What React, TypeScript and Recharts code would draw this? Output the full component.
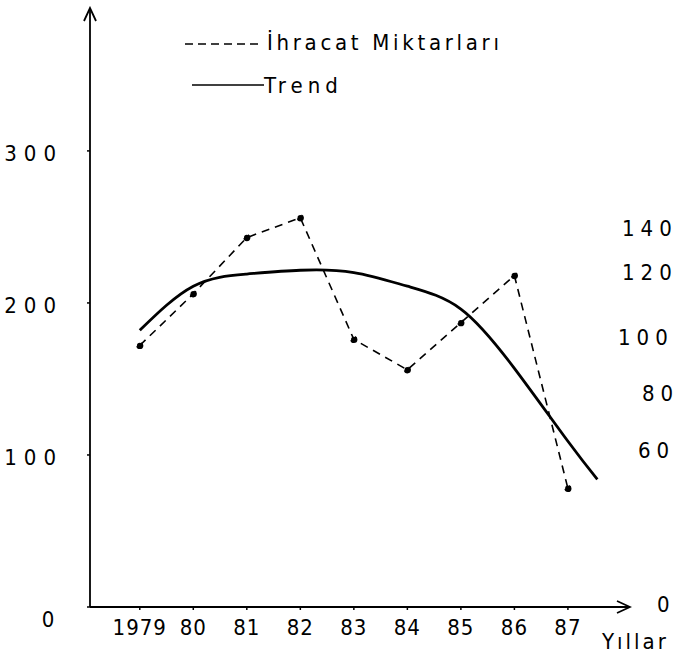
import { LineChart, Line, XAxis, YAxis, Legend, Customized } from "recharts";

const years = [1979, 1980, 1981, 1982, 1983, 1984, 1985, 1986, 1987];
const yearLabels = ["1979", "80", "81", "82", "83", "84", "85", "86", "87"];
const exportAmounts = [172, 206, 243, 256, 176, 156, 187, 218, 78];
const trendYears = [1979, 1980, 1981, 1982, 1983, 1984, 1985, 1986, 1987, 1987.55];
const trendValues = [182, 211, 219, 221.5, 220, 211, 196, 157, 109, 84];
const yTicks = [0, 100, 200, 300];
// labels of the neighbouring chart, cut by the page edge
const cutLabels = ["140", "120", "100", "80", "60", "0"];

const exportData = years.map((year, i) => ({ year, value: exportAmounts[i] }));
const trendData = trendYears.map((year, i) => ({ year, value: trendValues[i] }));

const FONT = "'DejaVu Sans Condensed', 'DejaVu Sans', sans-serif";

const XTick = ({ x, y, payload }: any) => {
  const idx = years.indexOf(payload.value);
  return (
    <text x={x} y={y + 23} textAnchor="middle" fontFamily={FONT} fontSize={22} letterSpacing={1} fill="#000">
      {yearLabels[idx]}
    </text>
  );
};

const YTick = ({ x, y, payload }: any) => {
  if (payload.value === 0) {
    return (
      <text x={48} y={y + 20} textAnchor="middle" fontFamily={FONT} fontSize={22} fill="#000">
        0
      </text>
    );
  }
  return (
    <text x={x - 22} y={y + 10} textAnchor="end" fontFamily={FONT} fontSize={22} letterSpacing={7} fill="#000">
      {payload.value}
    </text>
  );
};

const LegendBox = () => (
  <svg width={684} height={110}>
    <line x1={185} y1={44} x2={260} y2={44} stroke="#000" strokeWidth={1.5} strokeDasharray="8 5" />
    <text x={267} y={50} fontFamily={FONT} fontSize={22} letterSpacing={3.7} fill="#000">
      İhracat Miktarları
    </text>
    <line x1={192} y1={85} x2={264} y2={85} stroke="#000" strokeWidth={1.5} />
    <text x={264} y={93} fontFamily={FONT} fontSize={22} letterSpacing={5} fill="#000">
      Trend
    </text>
  </svg>
);

const Extras = () => {
  const pos = [
    [622, 236],
    [622, 280],
    [618, 345],
    [642, 401],
    [638, 458],
    [657, 612],
  ];
  return (
    <g>
      <defs>
        <marker
          id="axisArrow"
          markerWidth={16}
          markerHeight={14}
          refX={14}
          refY={7}
          orient="auto-start-reverse"
          markerUnits="userSpaceOnUse"
        >
          <path d="M1,1 L14,7 L1,13" fill="none" stroke="#000" strokeWidth={1.8} />
        </marker>
      </defs>
      {cutLabels.map((t, i) => (
        <text
          key={t}
          x={pos[i][0]}
          y={pos[i][1]}
          fontFamily={FONT}
          fontSize={22}
          letterSpacing={6}
          fill="#000"
        >
          {t}
        </text>
      ))}
      <text x={602} y={649} fontFamily={FONT} fontSize={22} letterSpacing={3} fill="#000">
        Yıllar
      </text>
    </g>
  );
};

export default function App() {
  return (
    <div style={{ position: "absolute", left: 0, top: 0, background: "#fff" }}>
      <LineChart
        width={684}
        height={658}
        data={exportData}
        margin={{ top: 8, right: 54, bottom: 0, left: 0 }}
      >
        <Customized component={<Extras />} />
        <XAxis
          dataKey="year"
          type="number"
          domain={[1978.07, 1988.16]}
          ticks={years}
          height={51}
          tickSize={3}
          tick={<XTick />}
          axisLine={{ stroke: "#000", strokeWidth: 1.8, markerEnd: "url(#axisArrow)" }}
          tickLine={{ stroke: "#000", strokeWidth: 1.5 }}
          allowDuplicatedCategory={false}
        />
        <YAxis
          dataKey="value"
          type="number"
          domain={[0, 394]}
          ticks={yTicks}
          width={90}
          tickSize={3}
          tick={<YTick />}
          axisLine={{ stroke: "#000", strokeWidth: 1.8, markerStart: "url(#axisArrow)" }}
          tickLine={{ stroke: "#000", strokeWidth: 1.5 }}
        />
        <Legend
          layout="vertical"
          align="center"
          verticalAlign="middle"
          content={<LegendBox />}
          wrapperStyle={{ top: 0, left: 0, width: 684, height: 110 }}
        />
        <Line
          data={exportData}
          dataKey="value"
          name="İhracat Miktarları"
          type="linear"
          stroke="#000"
          strokeWidth={1.6}
          strokeDasharray="8 6"
          dot={{ r: 2.8, fill: "#000", stroke: "#000" }}
          isAnimationActive={false}
        />
        <Line
          data={trendData}
          dataKey="value"
          name="Trend"
          type="natural"
          stroke="#000"
          strokeWidth={2.8}
          dot={false}
          isAnimationActive={false}
        />
      </LineChart>
    </div>
  );
}
